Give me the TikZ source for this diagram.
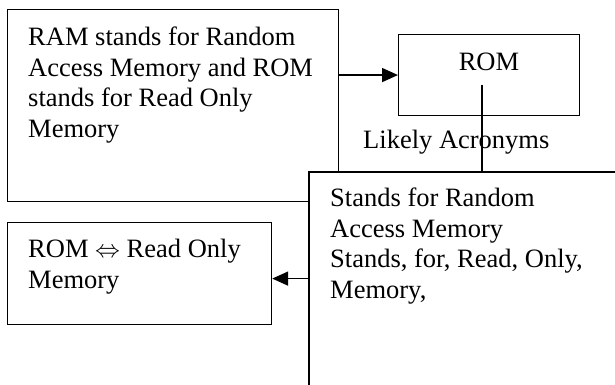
\documentclass[tikz,border=0pt]{standalone}
\usepackage{fontspec}
\setmainfont{Liberation Serif}
\usetikzlibrary{arrows.meta,calc}

\begin{document}
\begin{tikzpicture}[x=1pt,y=-1pt,
    box/.style={draw,fill=white,anchor=north west,inner sep=0pt},
    txt/.style={anchor=base west,align=left,inner sep=0pt,
      font=\fontsize{26.5}{30.5}\selectfont},
    arr/.style={line width=1.6pt,-{Triangle[length=16pt,width=14pt]}}]
  \useasboundingbox (0,0) rectangle (615,385);
  \path[clip] (0,0) rectangle (615,385);

  % base of a multi-line text is its last line
  \node[box,line width=0.9pt,minimum width=331pt,minimum height=192pt] (ram) at (7,9) {};
  \node[txt] (ramtxt) at (28,137) {RAM stands for Random\\Access Memory and ROM\\stands for Read Only\\Memory};

  \node[box,line width=1.1pt,minimum width=181pt,minimum height=81pt] (rom) at (398,34) {};
  \node[txt,anchor=base] (romtxt) at (489,71) {ROM};
  \coordinate (romtail) at (482,85);

  \node[txt] (acro) at (363,148) {Likely Acronyms};

  \node[box,line width=1.6pt,minimum width=340pt,minimum height=260pt] (stand) at (308,171) {};
  \node[txt] (standtxt) at (330,298) {Stands for Random\\Access Memory\\Stands, for, Read, Only,\\Memory,};

  \node[box,line width=1.2pt,minimum width=264pt,minimum height=102pt] (romeq) at (7,222) {};
  \node[txt] (romeqtxt) at (28,288) {ROM $\Leftrightarrow$ Read Only\\Memory};

  \draw[arr] (ram.east |- rom.west) -- (rom.west);
  \draw[line width=1.4pt] (romtail) -- (romtail |- stand.north);
  \draw[arr] ([yshift=-5pt]romeq.east -| stand.west) -- ([yshift=-5pt]romeq.east);
\end{tikzpicture}
\end{document}
